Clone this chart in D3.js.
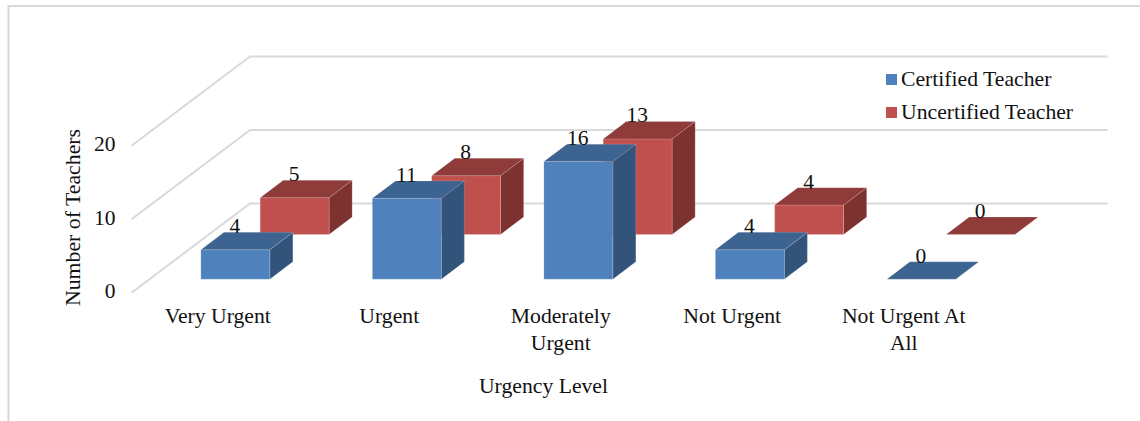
<!DOCTYPE html>
<html>
<head>
<meta charset="utf-8">
<script src="https://cdn.jsdelivr.net/npm/d3@7"></script>
<style>
  html, body { margin: 0; padding: 0; background: #fff; }
  svg { display: block; }
  text { font-family: "Liberation Serif", "Times New Roman", serif; fill: #111; }
</style>
</head>
<body>
<svg id="chart" width="1140" height="421"></svg>
<script>
// Survey results: urgency level by teacher certification
const categories = ["Very Urgent", "Urgent", "Moderately Urgent", "Not Urgent", "Not Urgent At All"];
const categoryLines = [["Very Urgent"], ["Urgent"], ["Moderately", "Urgent"], ["Not Urgent"], ["Not Urgent At", "All"]];
const seriesNames = ["Certified Teacher", "Uncertified Teacher"];
const certified = [4, 11, 16, 4, 0];
const uncertified = [5, 8, 13, 4, 0];
const yTicks = [0, 10, 20];

const palette = {
  "Certified Teacher": { front: "#4f81bd", top: "#3d6390", side: "#33547a" },
  "Uncertified Teacher": { front: "#c0504d", top: "#8f3b39", side: "#7d3230" }
};

const svg = d3.select("#chart");

// Oblique projection: depth moves a point up and to the right
const depthSlope = 118 / 89;
const x = d3.scaleBand().domain(categories).range([131.5, 989]).paddingInner(0.598).paddingOuter(0.299);
const y = d3.scaleLinear().domain([0, 20]).range([292.8, 145.8]);
const z = d3.scaleBand().domain(seriesNames).range([0, 89.4]).paddingInner(0.611).paddingOuter(0.305);
const project = (px, value, depth) => [px + depth * depthSlope, y(value) - depth];
const polygon = pts => pts.map(p => p.join(",")).join(" ");

// Outer frame, open on the right and bottom
svg.append("path")
  .attr("d", "M8.5,421V6H1140")
  .attr("fill", "none").attr("stroke", "#d9d9d9").attr("stroke-width", 2);

// Gridlines across the side and back walls
const zMax = z.range()[1];
const grid = svg.append("g").attr("fill", "none").attr("stroke", "#d9d9d9").attr("stroke-width", 2);
yTicks.forEach(t => {
  const a = project(x.range()[0], t, 0);
  const b = project(x.range()[0], t, zMax);
  const c = project(x.range()[1], t, zMax);
  grid.append("polyline").attr("points", polygon([a, b, c]));
});

// Bars, back row first so the front row overlaps it
const rows = [
  { name: seriesNames[1], values: uncertified },
  { name: seriesNames[0], values: certified }
];
rows.forEach(row => {
  const colors = palette[row.name];
  const z0 = z(row.name), z1 = z0 + z.bandwidth();
  const g = svg.append("g");
  row.values.forEach((v, i) => {
    const x0 = x(categories[i]), x1 = x0 + x.bandwidth();
    const face = (pts, fill) => g.append("polygon")
      .attr("points", polygon(pts)).attr("fill", fill)
      .attr("stroke", "#fff").attr("stroke-opacity", 0.2).attr("stroke-width", 0.8);
    if (v > 0) {
      face([project(x1, 0, z0), project(x1, 0, z1), project(x1, v, z1), project(x1, v, z0)], colors.side);
      face([project(x0, 0, z0), project(x1, 0, z0), project(x1, v, z0), project(x0, v, z0)], colors.front);
    }
    face([project(x0, v, z0), project(x1, v, z0), project(x1, v, z1), project(x0, v, z1)], colors.top);
  });
});

// Value labels are centred on the front face and rest on the top face's back edge
const labels = svg.append("g").attr("font-size", 21.5).attr("text-anchor", "middle");
rows.forEach(row => {
  const z0 = z(row.name), z1 = z0 + z.bandwidth();
  row.values.forEach((v, i) => {
    const [lx] = project(x(categories[i]) + x.bandwidth() / 2, v, z0);
    labels.append("text")
      .attr("x", lx - 0.5)
      .attr("y", y(v) - z1 + 1)
      .text(v);
  });
});

// Value axis
const yAxis = svg.append("g")
  .attr("transform", "translate(120.5,-2)")
  .call(d3.axisLeft(y).tickValues(yTicks).tickSize(0).tickPadding(5));
yAxis.select(".domain").remove();
yAxis.selectAll("text").attr("font-size", 21.5)
  .style("font-family", '"Liberation Serif", serif').style("fill", "#111");

svg.append("text")
  .attr("transform", "translate(79.5,217.5) rotate(-90)")
  .attr("text-anchor", "middle").attr("font-size", 21.8)
  .text("Number of Teachers");

// Category labels, broken over two lines where needed
const catLabels = svg.append("g").attr("font-size", 21.7).attr("text-anchor", "middle");
categories.forEach((c, i) => {
  const t = catLabels.append("text");
  categoryLines[i].forEach((line, k) => {
    t.append("tspan")
      .attr("x", x(c) + x.bandwidth() / 2 + 0.5)
      .attr("y", 323 + k * 26.5)
      .text(line);
  });
});

svg.append("text")
  .attr("x", 543.5).attr("y", 393)
  .attr("text-anchor", "middle").attr("font-size", 21.7)
  .text("Urgency Level");

// Legend
const legend = svg.append("g");
seriesNames.forEach((name, i) => {
  const row = legend.append("g").attr("transform", `translate(886,${74 + i * 33})`);
  row.append("rect").attr("width", 11).attr("height", 11).attr("fill", palette[name].front);
  row.append("text").attr("x", 15).attr("y", 12).attr("font-size", 21.7).text(name);
});
</script>
</body>
</html>
